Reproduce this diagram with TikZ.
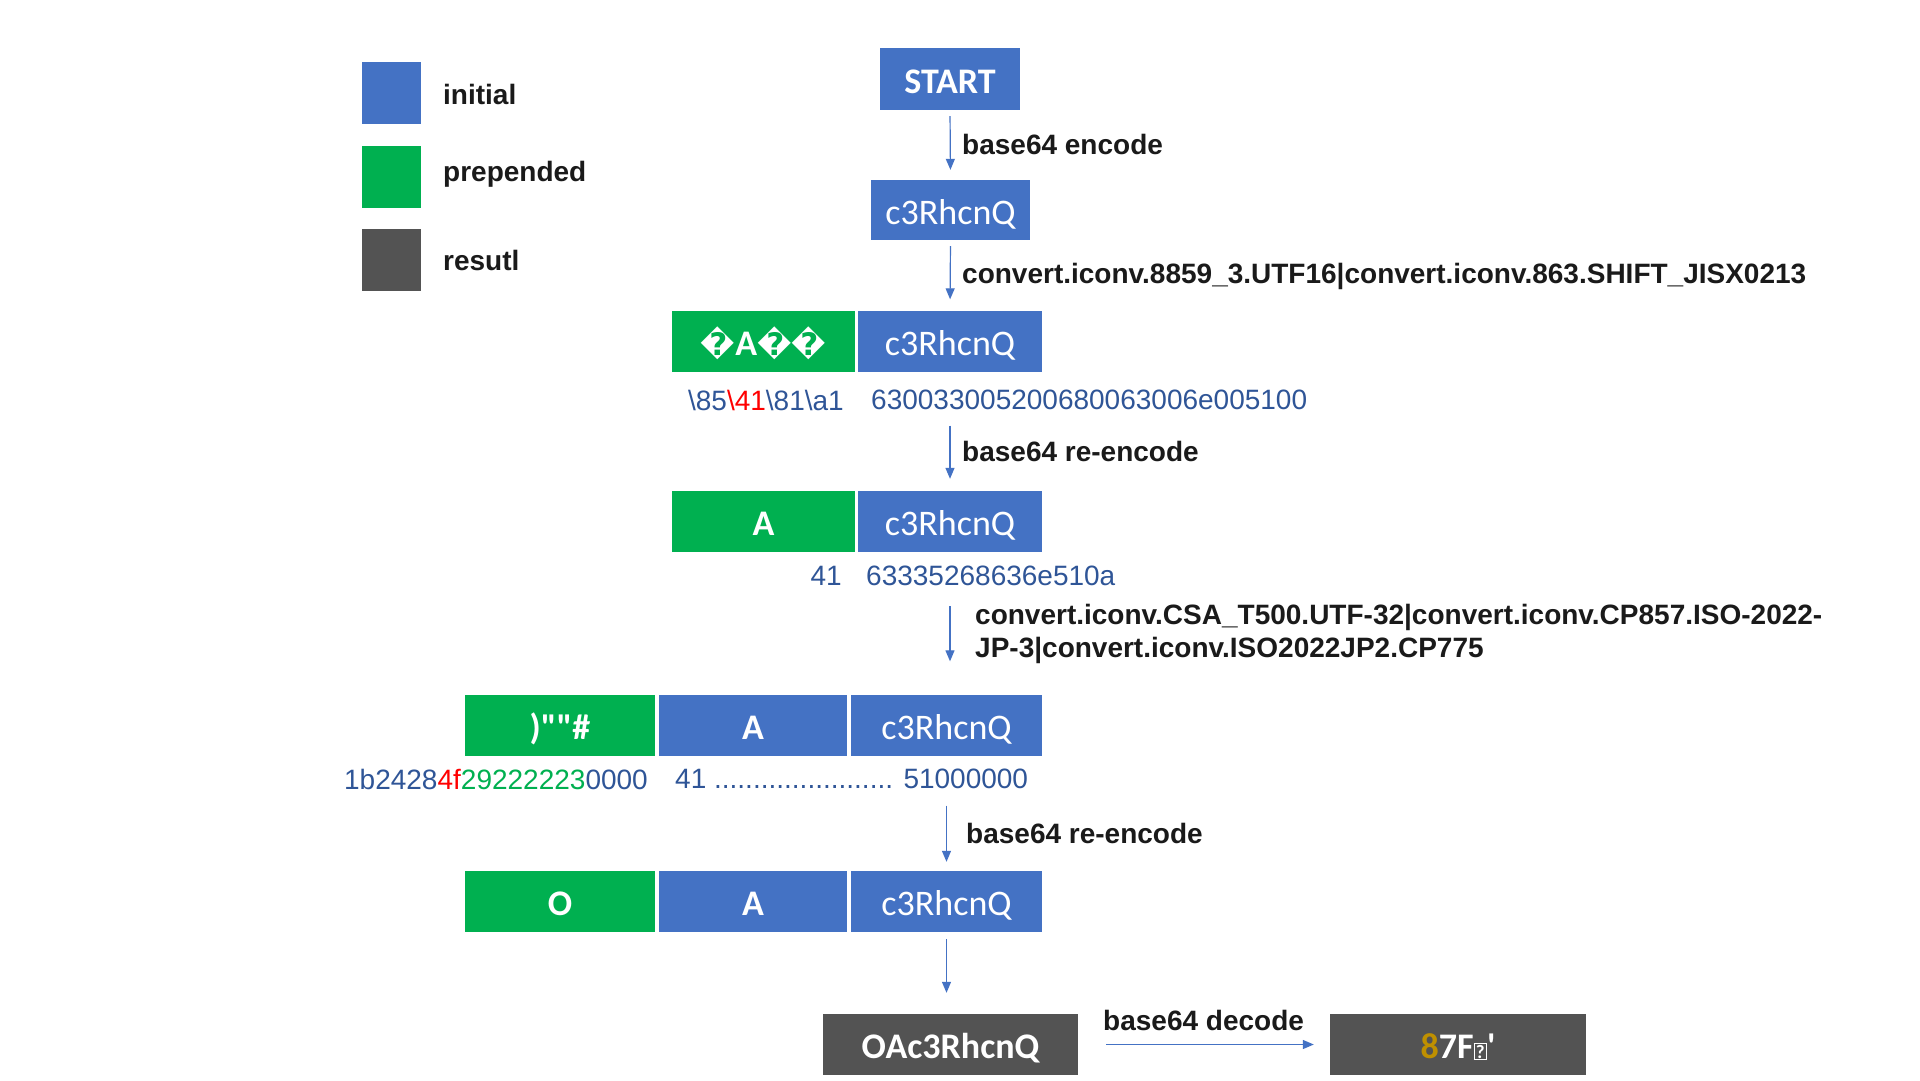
\documentclass[tikz,border=0pt]{standalone}
\usepackage{fontspec}
\setmainfont{Liberation Sans}
\newfontfamily\boxfont[Ligatures=TeXOff]{Carlito}
\newfontfamily\symfont{DejaVu Sans}
\usetikzlibrary{arrows.meta}
\definecolor{myblue}{HTML}{4472C4}
\definecolor{mygreen}{HTML}{00B050}
\definecolor{mygray}{HTML}{535353}
\definecolor{hexblue}{HTML}{2F5597}
\definecolor{hexred}{HTML}{FF0000}
\definecolor{hexgreen}{HTML}{00B050}
\definecolor{goldtxt}{HTML}{BF9000}
\definecolor{lbl}{HTML}{1A1A1A}
\begin{document}
\begin{tikzpicture}[x=1pt,y=-1pt,
  cell/.style={minimum height=61pt, inner sep=0pt, text=white, text height=28pt, text depth=0pt, font=\boxfont\fontsize{36}{42}\selectfont},
  boldcell/.style={font=\boxfont\bfseries\fontsize{36}{42}\selectfont},
  bluecell/.style={cell, fill=myblue},
  greencell/.style={cell, fill=mygreen},
  graycell/.style={cell, fill=mygray},
  flow/.style={draw=myblue, line width=1.2pt, -{Triangle[length=11pt,width=9pt]}},
  lab/.style={anchor=west, text=lbl, font=\bfseries\fontsize{28}{33}\selectfont, inner sep=0pt, align=left},
  hex/.style={text=hexblue, font=\fontsize{28}{33}\selectfont, inner sep=0pt},
  legsq/.style={minimum width=59pt, minimum height=62pt, inner sep=0pt},
]
\useasboundingbox[fill=white] (0,0) rectangle (1920,1080);

% legend
\node[legsq, fill=myblue]  (lgb) at (391.5,93) {};
\node[legsq, fill=mygreen] (lgg) at (391.5,176.5) {};
\node[legsq, fill=mygray]  (lgk) at (391.5,260) {};
\node[lab] (lgbt) at (443,94) {initial};
\node[lab] (lggt) at (443,174) {prepended};
\node[lab] (lgkt) at (443,260) {resutl};

% start
\node[bluecell, boldcell, minimum width=140pt, minimum height=62pt] (start) at (950,79) {START};
\node[bluecell, minimum width=159pt, minimum height=60pt] (c1) at (950.5,210) {c3RhcnQ};

% row 3
\node[greencell, boldcell, minimum width=183pt] (g3) at (763.5,341) {{\symfont\fontsize{31}{36}\selectfont ^^^^fffd}A{\symfont\fontsize{31}{36}\selectfont ^^^^fffd^^^^fffd}};
\node[bluecell, minimum width=184pt] (b3) at (950,341) {c3RhcnQ};
\node[hex, anchor=east] (h3a) at (844,400) {\textbackslash 85{\color{hexred}\textbackslash 41}\textbackslash 81\textbackslash a1};
\node[hex, anchor=west] (h3b) at (871,400) {630033005200680063006e005100};

% row 4
\node[greencell, boldcell, minimum width=183pt] (g4) at (763.5,521.5) {A};
\node[bluecell, minimum width=184pt] (b4) at (950,521.5) {c3RhcnQ};
\node[hex, anchor=east] (h4a) at (842,576) {41};
\node[hex, anchor=west] (h4b) at (866,576) {63335268636e510a};

% row 5
\node[greencell, boldcell, minimum width=190pt] (g5) at (560,725) {)""\#};
\node[bluecell, boldcell, minimum width=188pt] (a5) at (753,725) {A};
\node[bluecell, minimum width=191pt] (c5) at (946.5,725) {c3RhcnQ};
\node[hex, anchor=east] (h5a) at (648,779) {1b2428{\color{hexred}4f}{\color{hexgreen}29222223}0000};
\node[hex, anchor=west] (h5b) at (675,779) {41 ....................... 51000000};

% row 6
\node[greencell, boldcell, minimum width=190pt] (g6) at (560,901.5) {O};
\node[bluecell, boldcell, minimum width=188pt] (a6) at (753,901.5) {A};
\node[bluecell, minimum width=191pt] (c6) at (946.5,901.5) {c3RhcnQ};

% results
\node[graycell, boldcell, minimum width=255pt] (oa) at (950.5,1044.5) {OAc3RhcnQ};
\node[graycell, boldcell, minimum width=256pt] (res) at (1458,1044.5) {{\color{goldtxt}8}7F\raisebox{0.5pt}{\setlength\fboxsep{1pt}\setlength\fboxrule{1.3pt}\fbox{\fontsize{19}{19}\selectfont ?}}'};

% connectors
\draw[flow, shorten <=6pt, shorten >=10pt] (start.south) -- (c1.north);
\draw[flow, shorten <=6pt, shorten >=11pt] (c1.south) -- (b3.north);
\draw[flow, shorten <=54pt, shorten >=12pt] (b3.south) -- (b4.north);
\draw[flow, shorten <=54pt, shorten >=33pt] (b4.south) -- (b4.south |- c5.north);
\draw[flow, shorten <=50pt, shorten >=9pt] (c5.south) -- (c6.north);
\draw[flow, shorten <=7pt, shorten >=21pt] (c6.south) -- (c6.south |- oa.north);
\draw[flow, shorten <=28pt, shorten >=16pt] (oa.east) -- (res.west);

% connector labels
\node[lab] (l1) at (962,144) {base64 encode};
\node[lab] (l2) at (962,276) {convert.iconv.8859\_3.UTF16|convert.iconv.863.SHIFT\_JISX0213};
\node[lab] (l3) at (962,451) {base64 re-encode};
\node[lab] (l4) at (975,633.5) {convert.iconv.CSA\_T500.UTF-32|convert.iconv.CP857.ISO-2022-\\JP-3|convert.iconv.ISO2022JP2.CP775};
\node[lab] (l5) at (966,833) {base64 re-encode};
\node[lab] (l6) at (1103,1020) {base64 decode};
\end{tikzpicture}
\end{document}
